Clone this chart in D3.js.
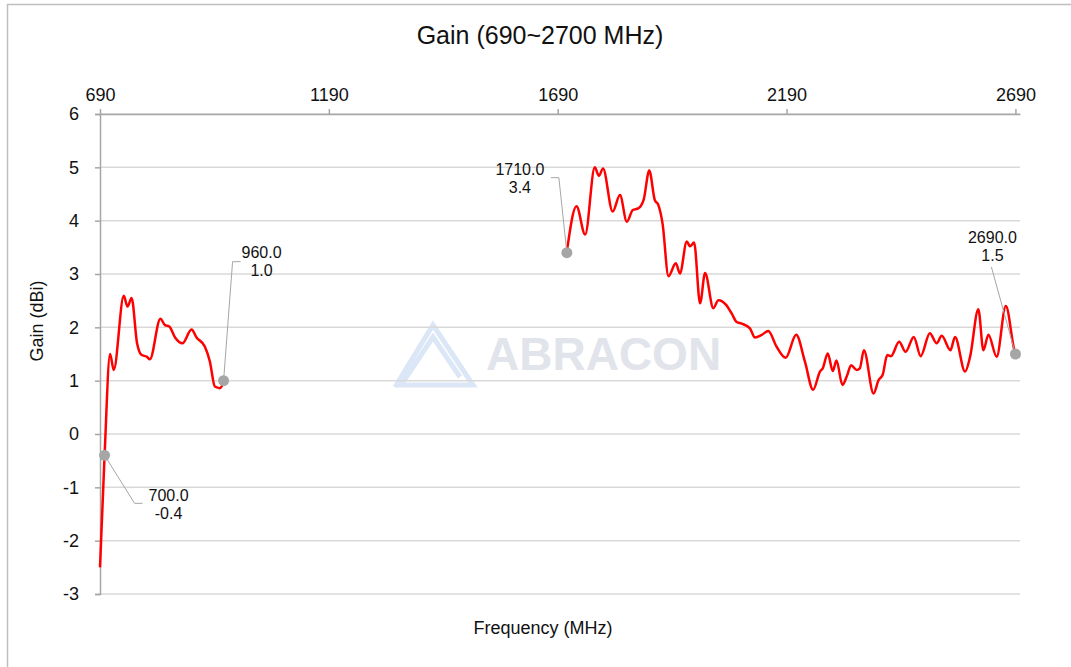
<!DOCTYPE html>
<html>
<head>
<meta charset="utf-8">
<script src="https://cdn.jsdelivr.net/npm/d3@7"></script>
<style>
  body { margin: 0; background: #fff; }
  text { font-family: Arial, "Liberation Sans", sans-serif; fill: #111; }
</style>
</head>
<body>
<script>
// low band, 690-960 MHz
var lowFreq = [690, 700, 712, 720, 742, 750, 759, 771, 781, 792, 799, 822, 832, 841, 854, 870, 890, 901, 919, 930, 941, 952, 960];
var lowGain = [-2.5, -0.4, 1.5, 1.2, 2.59, 2.39, 2.55, 1.7, 1.48, 1.45, 1.4, 2.16, 2.04, 2.02, 1.81, 1.7, 1.96, 1.81, 1.64, 1.36, 0.89, 0.86, 0.97];

// high band, 1710-2700 MHz
var highFreq = [1710, 1731, 1750, 1771, 1780, 1789, 1810, 1826, 1841, 1854, 1866, 1878, 1890, 1902, 1910, 1919, 1932, 1948, 1957, 1972,
                1979, 1988, 2001, 2012, 2030, 2041, 2058, 2070, 2081, 2092, 2110, 2121, 2136, 2150, 2168, 2188, 2211, 2230, 2248, 2263,
                2269, 2280, 2291, 2299, 2312, 2322, 2331, 2343, 2350, 2359, 2380, 2391, 2400, 2410, 2418, 2436, 2450, 2468, 2483, 2503,
                2518, 2529, 2548, 2558, 2580, 2591, 2609, 2620, 2631, 2649, 2669, 2690, 2700];
var highGain = [3.42, 4.27, 3.74, 5.0, 4.84, 4.98, 4.17, 4.48, 3.98, 4.2, 4.23, 4.4, 4.94, 4.39, 4.29, 3.95, 2.96, 3.2, 3.01, 3.61,
                3.52, 3.59, 2.45, 3.02, 2.36, 2.51, 2.42, 2.26, 2.1, 2.07, 1.98, 1.81, 1.86, 1.93, 1.64, 1.43, 1.86, 1.36, 0.83, 1.17,
                1.23, 1.51, 1.18, 1.38, 0.92, 1.09, 1.29, 1.2, 1.23, 1.57, 0.76, 1.01, 1.11, 1.48, 1.46, 1.73, 1.54, 1.82, 1.46, 1.89,
                1.7, 1.84, 1.57, 1.82, 1.17, 1.45, 2.34, 1.57, 1.86, 1.45, 2.4, 1.51, 1.45];

// marked points
var markFreq = [700, 960, 1710, 2690];
var markGain = [-0.4, 1.0, 3.4, 1.5];

// ticks
var xTicks = [690, 1190, 1690, 2190, 2690];
var yTicks = [-3, -2, -1, 0, 1, 2, 3, 4, 5, 6];

function setUpCanvas(){

    var margin = {"top":114, "left":100};
    var width = 920;
    var height = 480;

    var canvas = d3.select("body")
                    .append("svg")
                    .attr("width",1071)
                    .attr("height",667)

    // chart border
    canvas.append("rect")
          .attr("x",7.5).attr("y",4.5)
          .attr("width",1100).attr("height",700)
          .attr("fill","none")
          .attr("stroke","#bfbfbf")
          .attr("stroke-width",1.5)

    canvas.append("text")
          .attr("x",540).attr("y",44)
          .attr("text-anchor","middle")
          .style("font-size","25px")
          .text("Gain (690~2700 MHz)")

    var xScale = d3.scaleLinear()
                    .domain([690,2700])
                    .range([0,width])

    var yScale = d3.scaleLinear()
                    .domain([-3,6])
                    .range([height,0]);

    var chartGroup = canvas.append("g")
                            .attr("transform","translate(" +margin.left + "," + margin.top + ")");

    // watermark
    var wm = chartGroup.append("g");
    wm.append("path")
      .attr("d","M295,273 L333,211 L373,271 L301,271 L333,223 L360,263")
      .attr("fill","none").attr("stroke","#dbe6f7").attr("stroke-width",5)
      .attr("stroke-linejoin","miter")
    wm.append("text")
      .attr("x",386).attr("y",256)
      .style("font-size","46px").style("font-weight","bold")
      .style("fill","#e1e4eb")
      .text("ABRACON")

    // horizontal grid
    chartGroup.selectAll(".grid")
              .data(yTicks)
              .enter()
              .append("line")
              .attr("class","grid")
              .attr("x1",0).attr("x2",width)
              .attr("y1",function(d){return yScale(d)})
              .attr("y2",function(d){return yScale(d)})
              .attr("stroke","#d9d9d9")
              .attr("stroke-width",1.5)

    var plain = function(d){return String(d)};

    var y_axisGroup = chartGroup.append("g")
                                .call(d3.axisLeft(yScale).tickValues(yTicks).tickFormat(plain).tickSize(5).tickPadding(16));
    y_axisGroup.select(".domain").attr("stroke","#a6a6a6").attr("stroke-width",1.5);
    y_axisGroup.selectAll(".tick line").attr("stroke","#a6a6a6").attr("stroke-width",1.5);
    y_axisGroup.selectAll(".tick text").style("font-size","18px").style("font-family","Arial, 'Liberation Sans', sans-serif").attr("fill","#111");

    var x_axisGroup = chartGroup.append("g")
                                .call(d3.axisTop(xScale).tickValues(xTicks).tickFormat(plain).tickSize(5).tickSizeOuter(0).tickPadding(8));
    x_axisGroup.select(".domain").attr("stroke","#a6a6a6").attr("stroke-width",1.5);
    x_axisGroup.selectAll(".tick line").attr("stroke","#a6a6a6").attr("stroke-width",1.5);
    x_axisGroup.selectAll(".tick text").style("font-size","18px").style("font-family","Arial, 'Liberation Sans', sans-serif").attr("fill","#111");

    // axis titles
    canvas.append("text")
          .attr("x",543).attr("y",634)
          .attr("text-anchor","middle")
          .style("font-size","18px")
          .text("Frequency (MHz)")
    canvas.append("text")
          .attr("transform","translate(43,321) rotate(-90)")
          .attr("text-anchor","middle")
          .style("font-size","18px")
          .text("Gain (dBi)")

    var line = d3.line()
                 .x(function(d){return xScale(d[0])})
                 .y(function(d){return yScale(d[1])})
                 .curve(d3.curveMonotoneX);

    var bands = [d3.zip(lowFreq, lowGain), d3.zip(highFreq, highGain)];
    chartGroup.selectAll(".band")
              .data(bands)
              .enter()
              .append("path")
              .attr("class","band")
              .attr("d", line)
              .attr("fill","none")
              .attr("stroke","#ff0000")
              .attr("stroke-width",2.5)
              .attr("stroke-linejoin","round")

    // data labels: leader offsets and text offsets from each marker
    var callouts = [
        {pts:[[30,48],[38,48]], tx:64, ty:40},
        {pts:[[9,-119],[17,-119]], tx:38, ty:-129},
        {pts:[[-8,-75],[-16,-75]], tx:-47, ty:-84},
        {pts:[[-24,-87]], tx:-23, ty:-117}
    ];
    var fmt = function(v){return v.toFixed(1)};

    markFreq.forEach(function(f,i){
        var cx = xScale(f), cy = yScale(markGain[i]);
        var c = callouts[i];
        var p = [[cx,cy]].concat(c.pts.map(function(q){return [cx+q[0], cy+q[1]]}));
        chartGroup.append("path")
                  .attr("d", d3.line()(p))
                  .attr("fill","none")
                  .attr("stroke","#a6a6a6")
                  .attr("stroke-width",1)
        chartGroup.append("circle")
                  .attr("cx",cx).attr("cy",cy).attr("r",5.5)
                  .attr("fill","#a6a6a6")
        var t = chartGroup.append("text")
                  .attr("text-anchor","middle")
                  .style("font-size","16px")
        t.append("tspan").attr("x",cx+c.tx).attr("y",cy+c.ty+6).text(fmt(f))
        t.append("tspan").attr("x",cx+c.tx).attr("y",cy+c.ty+24).text(fmt(markGain[i]))
    });
}

setUpCanvas();
</script>
</body>
</html>
